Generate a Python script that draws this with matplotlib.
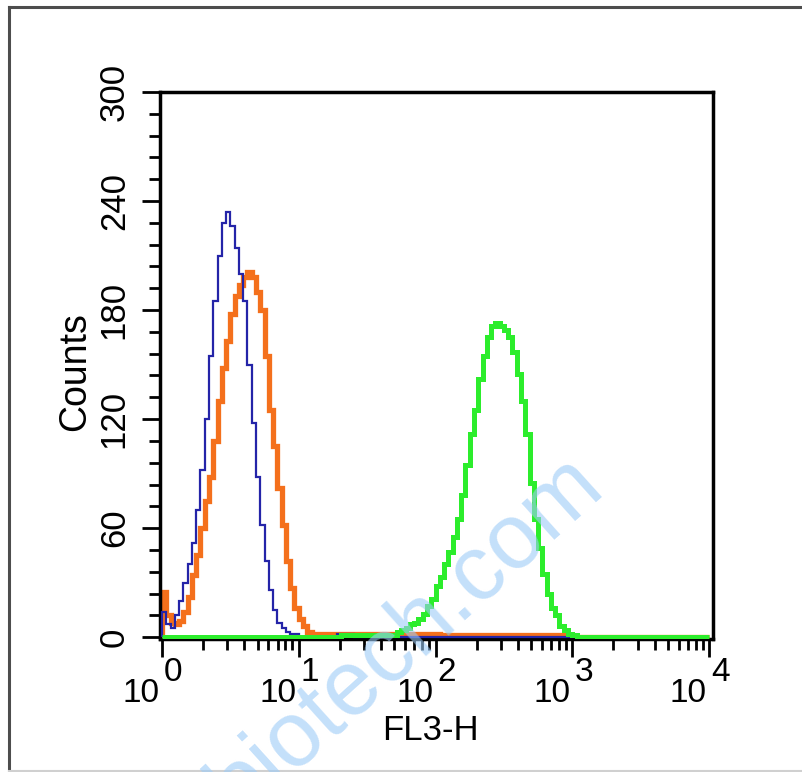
import matplotlib
matplotlib.use("Agg")
import matplotlib.pyplot as plt
import numpy as np
from matplotlib.lines import Line2D
from matplotlib.ticker import FixedLocator, LogLocator, MultipleLocator, NullFormatter

plt.rcParams['font.family'] = ['Liberation Sans', 'DejaVu Sans']

# channels: 32 bins per decade, 10^0 .. 10^4
edges = np.logspace(0, 4, 129)

# counts, one value per channel bin
blue_counts = ([14, 7, 5, 12, 20, 30, 40, 52, 70, 92, 120, 155, 185, 210, 228, 234,
                226, 214, 200, 185, 150, 118, 88, 62, 42, 26, 15, 8, 5, 3, 2, 2]
               + [0] * 9 + [2] * 4 + [0] * 83)
orange_counts = ([25, 12, 8, 7, 9, 14, 22, 34, 45, 60, 75, 88, 108, 130, 148, 163,
                  178, 188, 194, 198, 201, 198, 190, 180, 155, 125, 105, 82, 62, 42,
                  27, 16, 10, 6]
                 + [3] + [2] * 30 + [1] * 31 + [0] * 32)
green_counts = ([0] * 42 + [1] * 13
                + [3, 4, 5, 7, 8, 10, 13, 17, 21, 28, 33, 40, 47, 55, 65, 78, 95, 112,
                   125, 142, 155, 165, 171, 173, 171, 169, 165, 157, 145, 130, 112, 85,
                   65, 49, 35, 24, 16, 12, 6, 4, 2, 1]
                + [0] * 31)

y_ticks = [0, 60, 120, 180, 240, 300]
x_exps = [0, 1, 2, 3, 4]

fig = plt.figure(figsize=(8.02, 7.72), dpi=100)
ax = fig.add_axes([0.1995, 0.1723, 0.6895, 0.7085])

ax.stairs(orange_counts, edges, color="#f4701c", lw=3.8, zorder=2)
ax.stairs(blue_counts, edges, color="#2424a8", lw=1.6, zorder=3)
ax.stairs(green_counts, edges, color="#2ced2c", lw=3.6, zorder=4)

ax.set_xscale("log")
ax.set_xlim(10 ** -0.0146, 10 ** 4.029)
ax.set_ylim(-1, 300)

ax.xaxis.set_major_locator(FixedLocator(10.0 ** np.array(x_exps)))
ax.xaxis.set_minor_locator(LogLocator(base=10, subs=np.arange(2, 10), numticks=30))
ax.xaxis.set_major_formatter(NullFormatter())
ax.xaxis.set_minor_formatter(NullFormatter())

ax.set_yticks(y_ticks)
ax.set_yticklabels([str(v) for v in y_ticks], rotation=90, va="center", fontsize=25)
ax.yaxis.set_minor_locator(MultipleLocator(12))

ax.tick_params(which="major", direction="out", length=13, width=2, pad=8)
ax.tick_params(which="minor", direction="out", length=8, width=2)
ax.tick_params(top=False, right=False, which="both")
for sp in ax.spines.values():
    sp.set_linewidth(2.5)

# decade labels: "10" with a full size raised exponent
for e in x_exps:
    ax.annotate("10", xy=(10.0 ** e, 0), xycoords=("data", "axes fraction"),
                xytext=(-1.5, -45.5), textcoords="offset points",
                ha="right", va="baseline", fontsize=24)
    ax.annotate(str(e), xy=(10.0 ** e, 0), xycoords=("data", "axes fraction"),
                xytext=(1.5, -30.5), textcoords="offset points",
                ha="left", va="baseline", fontsize=24)

fig.text(85 / 802, 1 - 372 / 772, "Counts", rotation=90, rotation_mode="anchor",
         ha="center", va="baseline", fontsize=27)
fig.text(430 / 802, 1 - 740 / 772, "FL3-H", ha="center", va="baseline", fontsize=25)

# watermark
fig.text(406 / 802, 1 - 636 / 772, "biotech.com", rotation=42, rotation_mode="anchor",
         ha="center", va="center", fontsize=66, color="#9ccbf7", alpha=0.6, zorder=10)

# outer frame
fig.add_artist(Line2D([9 / 802, 9 / 802], [0, 1 - 6.5 / 772], transform=fig.transFigure,
                      color="#4d4d4d", lw=2.2))
fig.add_artist(Line2D([9 / 802, 1], [1 - 6.5 / 772, 1 - 6.5 / 772], transform=fig.transFigure,
                      color="#4d4d4d", lw=2.2))
fig.add_artist(Line2D([9 / 802, 1], [1 - 770.5 / 772, 1 - 770.5 / 772],
                      transform=fig.transFigure, color="#d0d0d0", lw=1.5))

fig.savefig("out.png", dpi=100, facecolor="white")
